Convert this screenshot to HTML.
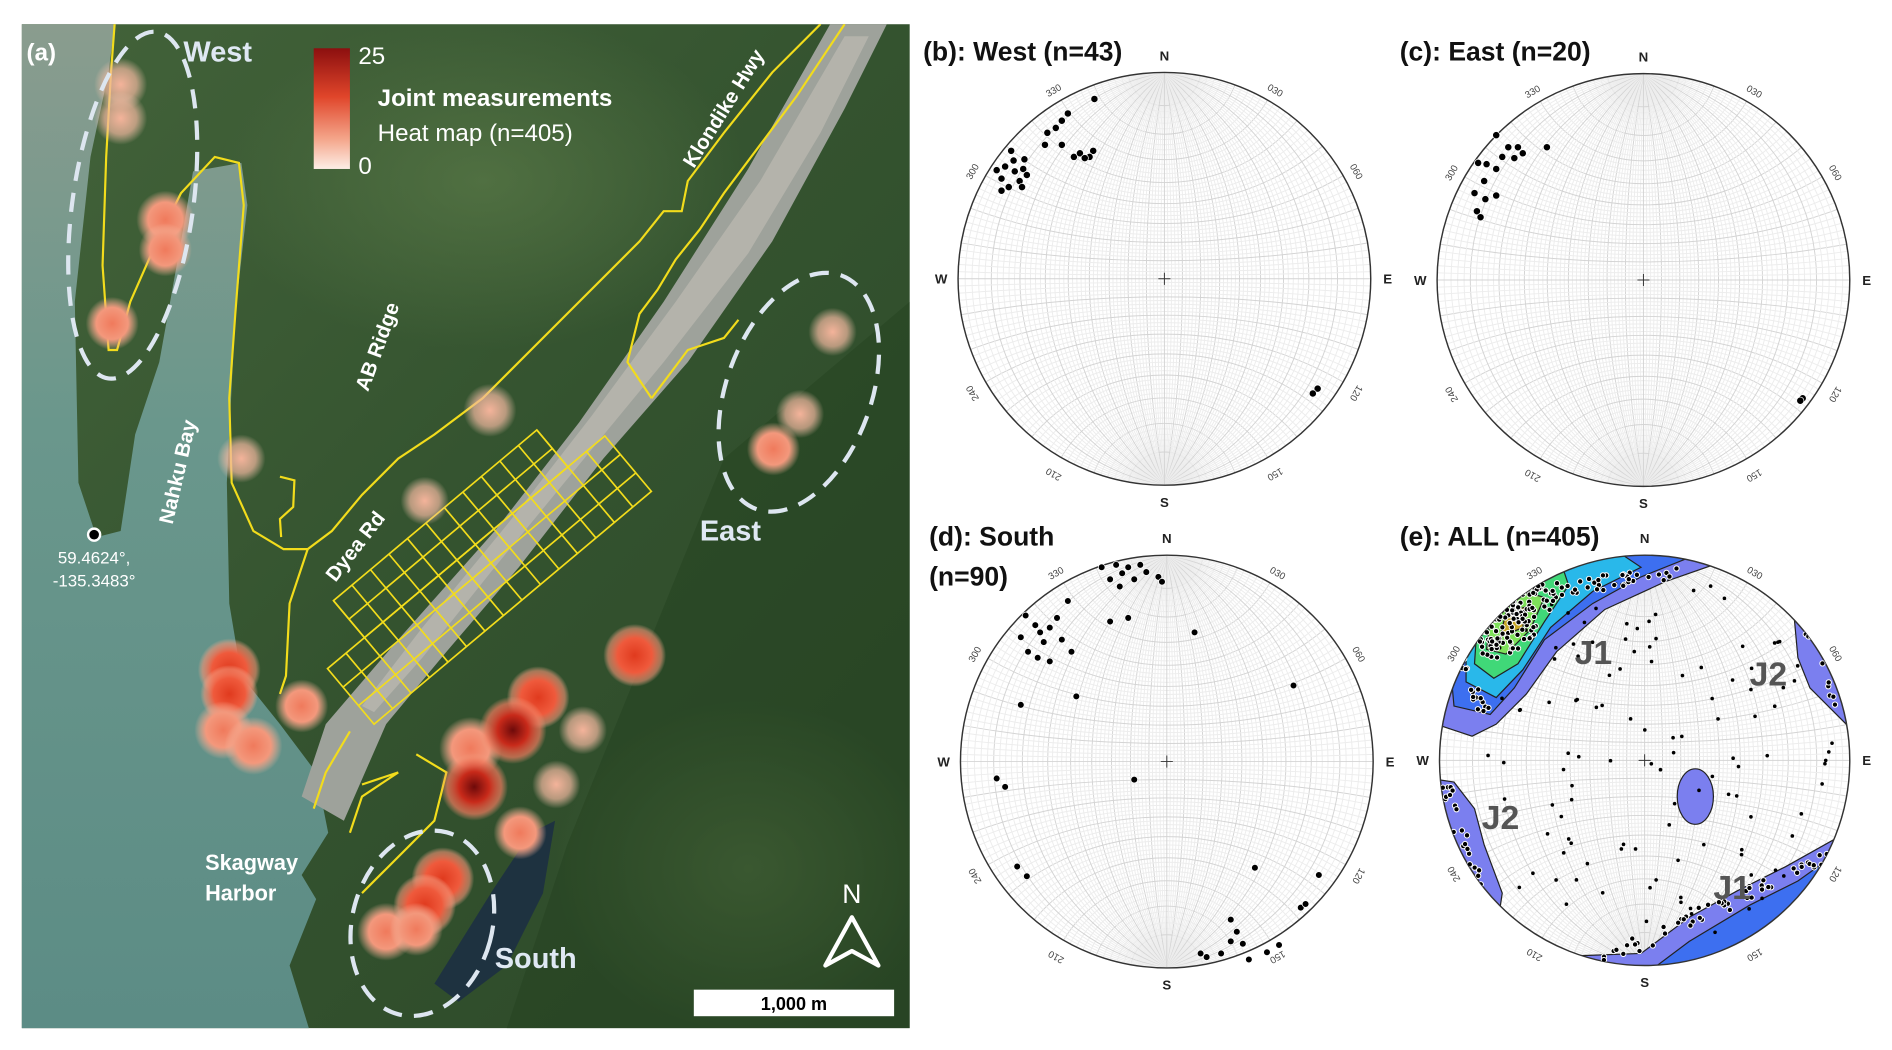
<!DOCTYPE html>
<html><head><meta charset="utf-8"><style>
html,body{margin:0;padding:0;background:#fff;width:1892px;height:1050px;overflow:hidden}
svg{display:block;position:absolute;left:0;top:0}
text{font-family:"Liberation Sans",Arial,sans-serif}
</style></head><body>
<svg id="s" width="1892" height="1050" viewBox="0 0 1568 870" preserveAspectRatio="none" xmlns="http://www.w3.org/2000/svg">
<defs>
<linearGradient id="forest" x1="0" y1="0" x2="1" y2="1">
<stop offset="0" stop-color="#43633a"/><stop offset="0.5" stop-color="#34532f"/><stop offset="1" stop-color="#2c4828"/></linearGradient>
<linearGradient id="water" x1="0" y1="0" x2="0" y2="1"><stop offset="0" stop-color="#8a9c8e"/><stop offset="0.4" stop-color="#6a978c"/><stop offset="1" stop-color="#5c8c85"/></linearGradient>
<linearGradient id="leg" x1="0" y1="0" x2="0" y2="1"><stop offset="0" stop-color="#8c0f0f"/><stop offset="0.4" stop-color="#e0452a"/><stop offset="0.75" stop-color="#f4a58a"/><stop offset="1" stop-color="#fdeee6"/></linearGradient>
<radialGradient id="hd"><stop offset="0" stop-color="#6e0a0a"/><stop offset="0.45" stop-color="#c82a1a"/><stop offset="0.8" stop-color="#ef7a5e" stop-opacity="0.7"/><stop offset="1" stop-color="#f4a080" stop-opacity="0"/></radialGradient>
<radialGradient id="hs"><stop offset="0" stop-color="#e03a1e"/><stop offset="0.55" stop-color="#ef5a3c"/><stop offset="0.85" stop-color="#f39376" stop-opacity="0.6"/><stop offset="1" stop-color="#f6b59a" stop-opacity="0"/></radialGradient>
<radialGradient id="hm"><stop offset="0" stop-color="#f07a5c"/><stop offset="0.6" stop-color="#f3987c"/><stop offset="1" stop-color="#f6b9a0" stop-opacity="0"/></radialGradient>
<radialGradient id="hp"><stop offset="0" stop-color="#f4b39a"/><stop offset="0.6" stop-color="#f2b8a0" stop-opacity="0.7"/><stop offset="1" stop-color="#f6c9b5" stop-opacity="0"/></radialGradient>
<radialGradient id="lg"><stop offset="0" stop-color="#5a7a48" stop-opacity="0.7"/><stop offset="1" stop-color="#5a7a48" stop-opacity="0"/></radialGradient>
<clipPath id="mapc"><rect x="18" y="20" width="736" height="832"/></clipPath>
</defs>
<g clip-path="url(#mapc)">
<rect x="18" y="20" width="736" height="832" fill="url(#forest)"/>
<ellipse cx="400" cy="150" rx="220" ry="140" fill="url(#lg)"/>
<ellipse cx="620" cy="720" rx="160" ry="140" fill="url(#lg)"/>
<path d="M600,380 L754,250 L754,852 L420,852 L470,700 Z" fill="#24401f" opacity="0.45"/>
<path d="M18,20 L95,20 L90,60 L75,130 L62,250 L65,400 L80,445 L100,440 L112,360 L132,300 L150,200 L160,142 L200,135 L205,170 L195,260 L188,400 L190,500 L200,560 L232,600 L262,640 L272,690 L250,725 L262,745 L240,800 L256,852 L18,852 Z" fill="url(#water)"/>
<path d="M688,20 L735,20 L700,90 L640,200 L570,300 L500,380 L430,470 L370,540 L320,600 L285,680 L250,660 L270,600 L330,530 L410,440 L480,350 L550,250 L620,140 Z" fill="#9ea29b"/>
<path d="M700,30 L720,30 L680,110 L620,210 L550,300 L480,385 L410,470 L350,545 L310,590 L300,585 L350,520 L420,435 L490,345 L560,250 L630,150 Z" fill="#bdbab2" opacity="0.7"/>
<path d="M410,735 L440,690 L460,680 L450,740 L420,800 L380,830 L360,815 Z" fill="#1e3240"/>
<g stroke="#f2dc1c" stroke-width="1.8" fill="none">
<path d="M95,20 L92,60 L88,130 L85,220 L90,290 L97,290 L108,250 L130,200 L150,160 L178,130 L198,135 L202,170 L195,260 L190,330 L192,400 L210,440 L235,455 L255,455 L275,440 L300,410 L330,380 L360,360 L400,330 L440,290 L480,250 L530,200 L550,175 L565,175 L570,150 L600,110 L640,60 L680,20"/>
<path d="M700,20 L660,80 L630,120 L600,160 L580,190 L560,215 L545,240 L530,260 L520,300 L540,330"/>
<path d="M255,455 L240,500 L237,560 L232,575"/>
<path d="M232,395 L244,398 L243,420 L232,430 L233,445"/>
<path d="M612,265 L600,280 L570,290 L540,330"/>
<path d="M290,606 L270,640 L260,670"/>
<path d="M345,625 L370,640 L360,680 L320,720 L300,740"/>
<path d="M300,650 L330,640 L300,660 L290,690"/>
</g>
<g transform="translate(310,600) rotate(-40)" stroke="#f2dc1c" stroke-width="1.4" fill="none">
<rect x="0" y="-60" width="300" height="60"/>
<rect x="40" y="-100" width="220" height="40"/>
<path d="M20,-60V0M40,-100V0M60,-100V0M80,-100V0M100,-100V0M120,-100V0M140,-100V0M160,-100V0M180,-100V0M200,-100V0M220,-100V0M240,-100V0M260,-100V0M280,-60V0M0,-20H300M0,-40H300M40,-80H260"/>
</g>
<g>
<circle cx="100" cy="70" r="22" fill="url(#hp)"/><circle cx="100" cy="98" r="22" fill="url(#hp)"/>
<circle cx="137" cy="182" r="24" fill="url(#hm)"/><circle cx="137" cy="207" r="22" fill="url(#hm)"/>
<circle cx="93" cy="268" r="22" fill="url(#hm)"/><circle cx="200" cy="380" r="20" fill="url(#hp)"/>
<circle cx="406" cy="340" r="22" fill="url(#hp)"/><circle cx="352" cy="415" r="20" fill="url(#hp)"/>
<circle cx="690" cy="275" r="20" fill="url(#hp)"/><circle cx="663" cy="343" r="20" fill="url(#hp)"/>
<circle cx="641" cy="372" r="22" fill="url(#hm)"/>
<circle cx="190" cy="555" r="26" fill="url(#hs)"/><circle cx="190" cy="575" r="24" fill="url(#hs)"/>
<circle cx="185" cy="605" r="24" fill="url(#hm)"/><circle cx="210" cy="618" r="24" fill="url(#hm)"/>
<circle cx="250" cy="585" r="22" fill="url(#hm)"/>
<circle cx="526" cy="543" r="26" fill="url(#hs)"/><circle cx="446" cy="578" r="26" fill="url(#hs)"/>
<circle cx="390" cy="620" r="26" fill="url(#hm)"/>
<circle cx="425" cy="605" r="28" fill="url(#hd)"/><circle cx="393" cy="652" r="28" fill="url(#hd)"/>
<circle cx="483" cy="605" r="20" fill="url(#hp)"/><circle cx="461" cy="650" r="20" fill="url(#hp)"/>
<circle cx="431" cy="690" r="22" fill="url(#hm)"/>
<circle cx="367" cy="728" r="26" fill="url(#hs)"/><circle cx="352" cy="750" r="26" fill="url(#hs)"/>
<circle cx="320" cy="772" r="24" fill="url(#hm)"/><circle cx="345" cy="770" r="22" fill="url(#hm)"/>
</g>
<g fill="none" stroke="#dde6f0" stroke-width="3.5" stroke-dasharray="16 10">
<ellipse cx="110" cy="170" rx="50" ry="145" transform="rotate(8 110 170)"/>
<ellipse cx="662" cy="325" rx="60" ry="103" transform="rotate(20 662 325)"/>
<ellipse cx="350" cy="765" rx="58" ry="78" transform="rotate(15 350 765)"/>
</g>
<rect x="260" y="40" width="30" height="100" fill="url(#leg)"/>
<g fill="#fff">
<text x="22" y="50" font-size="20" font-weight="bold">(a)</text>
<text x="152" y="51" font-size="24" font-weight="bold" fill="#dfe8f3">West</text>
<text x="297" y="53" font-size="20">25</text>
<text x="297" y="144" font-size="20">0</text>
<text x="313" y="88" font-size="20" font-weight="bold">Joint measurements</text>
<text x="313" y="117" font-size="20">Heat map (n=405)</text>
<text x="580" y="448" font-size="24" font-weight="bold" fill="#dfe8f3">East</text>
<text x="410" y="802" font-size="24" font-weight="bold" fill="#dfe8f3">South</text>
<text x="170" y="721" font-size="18" font-weight="bold">Skagway</text>
<text x="170" y="746" font-size="18" font-weight="bold">Harbor</text>
<text transform="translate(143,435) rotate(-77)" font-size="17" font-weight="bold">Nahku Bay</text>
<text transform="translate(305,325) rotate(-70)" font-size="17" font-weight="bold">AB Ridge</text>
<text transform="translate(278,483) rotate(-52)" font-size="17" font-weight="bold">Dyea Rd</text>
<text transform="translate(575,140) rotate(-58)" font-size="17" font-weight="bold">Klondike Hwy</text>
<text x="78" y="467" font-size="14" text-anchor="middle">59.4624°,</text>
<text x="78" y="486" font-size="14" text-anchor="middle">-135.3483°</text>
<text x="706" y="748" font-size="22" text-anchor="middle">N</text>
</g>
<circle cx="78" cy="443" r="5" fill="#000" stroke="#fff" stroke-width="2"/>
<path d="M706,760 L728,800 L706,788 L684,800 Z" fill="none" stroke="#fff" stroke-width="3.5" stroke-linejoin="round"/>
<rect x="575" y="820" width="166" height="22" fill="#fff"/>
<text x="658" y="837" font-size="15" font-weight="bold" text-anchor="middle" fill="#000">1,000 m</text>
</g>
<g id="nets"></g>
<g font-weight="bold" font-size="22" fill="#111">
<text x="765" y="50">(b): West (n=43)</text>
<text x="1160" y="50">(c): East (n=20)</text>
<text x="770" y="452">(d): South</text>
<text x="770" y="485">(n=90)</text>
<text x="1160" y="452">(e): ALL (n=405)</text>
</g>
</svg>
<script>
(function(){
var NS="http://www.w3.org/2000/svg",g=document.getElementById("nets");
function el(t,a,p){var e=document.createElementNS(NS,t);for(var k in a)e.setAttribute(k,a[k]);(p||g).appendChild(e);return e;}
var nets=[[965,231,171,"b"],[1362,232,171,"c"],[967,631,171,"d"],[1363,630,170,"e"]];
var seed=7;function rnd(){seed=(seed*16807)%2147483647;return seed/2147483647;}
var dots={
b:[[907,82],[885,94],[880,100],[875,106],[868,110],[880,120],[866,120],[906,125],[903,130],[890,130],[895,127],[899,131],[838,125],[833,138],[841,142],[848,140],[830,148],[845,150],[836,155],[830,158],[847,155],[851,145],[840,133],[826,141],[849,132],[1092,322],[1088,326]],
c:[[1240,112],[1250,122],[1258,122],[1262,127],[1282,122],[1245,130],[1255,131],[1240,140],[1232,136],[1225,135],[1230,150],[1222,160],[1231,165],[1240,162],[1224,175],[1227,180],[1494,330],[1492,332]],
d:[[913,470],[925,468],[930,475],[920,480],[945,468],[950,474],[960,478],[963,482],[940,480],[935,470],[928,486],[850,510],[858,518],[862,524],[870,520],[865,532],[852,540],[860,545],[880,530],[876,512],[885,498],[888,540],[846,528],[870,548],[920,515],[935,512],[990,524],[1072,568],[846,584],[892,577],[826,645],[833,652],[940,646],[843,718],[851,726],[1040,719],[1093,725],[1078,752],[1020,762],[1020,780],[1030,782],[995,790],[1000,793],[1050,789],[1060,783],[1082,749],[1025,772],[1012,790],[1035,795]]
};
nets.forEach(function(n){
 var cx=n[0],cy=n[1],r=n[2],id=n[3];
 var cp=el("clipPath",{id:"c"+id});el("circle",{cx:cx,cy:cy,r:r},cp);
 el("circle",{cx:cx,cy:cy,r:r,fill:"#fff"});
 var gg=el("g",{"clip-path":"url(#c"+id+")",fill:"none"});
 for(var a=2;a<90;a+=2){
  var col=(a%10==0)?"#d4d4d4":"#ededed";
  var ph=a*Math.PI/180, d=r*Math.tan(ph/2);
  var h=(d*d-r*r)/(2*d), rr=Math.abs(d-h);
  el("circle",{cx:cx+h,cy:cy,r:rr,stroke:col,"stroke-width":0.8},gg);
  el("circle",{cx:cx-h,cy:cy,r:rr,stroke:col,"stroke-width":0.8},gg);
  var al=a*Math.PI/180;
  el("circle",{cx:cx,cy:cy+r/Math.cos(al),r:r*Math.tan(al),stroke:col,"stroke-width":0.8},gg);
  el("circle",{cx:cx,cy:cy-r/Math.cos(al),r:r*Math.tan(al),stroke:col,"stroke-width":0.8},gg);
 }
 el("line",{x1:cx-r,y1:cy,x2:cx+r,y2:cy,stroke:"#d4d4d4","stroke-width":0.8},gg);
 el("line",{x1:cx,y1:cy-r,x2:cx,y2:cy+r,stroke:"#d4d4d4","stroke-width":0.8},gg);
 if(id=="e"){
  var P=function(d,f){el("path",{d:d,fill:f,stroke:"#222","stroke-width":1},gg);};
  P("M1190,600 L1190,520 L1260,450 L1440,450 L1420,468 L1380,482 L1330,505 L1290,540 L1265,575 L1240,600 L1220,610 Z","#7b7fef");
  P("M1205,585 L1200,530 L1270,458 L1380,455 L1400,462 L1360,478 L1320,500 L1280,530 L1255,570 L1235,592 Z","#3d6ff0");
  P("M1215,565 L1215,520 L1280,465 L1345,460 L1360,470 L1320,490 L1285,520 L1262,555 L1240,578 Z","#29b8ea");
  P("M1222,550 L1225,505 L1262,475 L1295,470 L1300,485 L1280,515 L1258,550 L1238,562 Z","#40d878");
  P("M1232,538 L1236,505 L1262,490 L1280,495 L1268,522 L1248,542 Z","#7ee05a");
  P("M1243,528 L1248,508 L1264,503 L1262,520 Z","#c7a82a");
  P("M1290,810 L1305,792 L1360,790 L1400,760 L1440,738 L1480,718 L1530,690 L1540,760 L1400,830 Z","#7b7fef");
  P("M1360,810 L1400,780 L1450,750 L1490,730 L1525,705 L1530,760 L1400,830 Z","#3d6ff0");
  P("M1410,810 L1460,780 L1500,755 L1525,730 L1520,790 L1420,830 Z","#29b8ea");
  P("M1487,512 L1505,530 L1520,560 L1535,600 L1540,610 L1520,590 L1500,570 L1490,545 Z","#7b7fef");
  P("M1185,645 L1205,648 L1222,670 L1230,700 L1245,740 L1242,760 L1228,765 L1205,740 L1185,700 Z","#7b7fef");
  P("M1195,700 L1205,705 L1215,740 L1205,740 Z","#3d6ff0");
  el("ellipse",{cx:1405,cy:660,rx:15,ry:23,fill:"#7b7fef",stroke:"#222","stroke-width":1},gg);
 }
 el("circle",{cx:cx,cy:cy,r:r,fill:"none",stroke:"#333","stroke-width":1.2});
 el("path",{d:"M"+(cx-5)+","+cy+"h10M"+cx+","+(cy-5)+"v10",stroke:"#333","stroke-width":0.8});
 var lab=[["N",0],["E",90],["S",180],["W",270]];
 lab.forEach(function(l){var t=l[1]*Math.PI/180;var x=cx+(r+14)*Math.sin(t),y=cy-(r+14)*Math.cos(t)+4;
  var tx=el("text",{x:x,y:y,"font-size":11,"font-weight":"bold","text-anchor":"middle",fill:"#222"});tx.textContent=l[0];});
 ["030","060","120","150","210","240","300","330"].forEach(function(s){var deg=+s,t=deg*Math.PI/180;var x=cx+(r+10)*Math.sin(t),y=cy-(r+10)*Math.cos(t);
  var tx=el("text",{x:0,y:0,"font-size":8,"text-anchor":"middle",fill:"#444",transform:"translate("+x+","+(y+3)+") rotate("+deg+")"});tx.textContent=s;});
 var ds=dots[id];
 if(id=="e"){ds=[];
  var dg=el("g",{"clip-path":"url(#ce)"});
  for(var i=0;i<120;i++){var a=rnd()*6.283,q=Math.sqrt(rnd())*0.92*r;var x=cx+q*Math.cos(a),y=cy+q*Math.sin(a);ds.push([x,y,0]);}
  for(var i=0;i<130;i++){var a=rnd()*6.283,q=Math.sqrt(rnd());var u=q*40*Math.cos(a),v=q*20*Math.sin(a);var c=0.7071;ds.push([1255+u*c+v*c,515-u*c+v*c,1]);}
  for(var i=0;i<40;i++){var t=rnd();ds.push([1275+t*110+rnd()*10,485-t*20+rnd()*14,1]);}
  for(var i=0;i<20;i++){var t=rnd();ds.push([1205+t*20+rnd()*10,540+t*50,1]);}
  for(var i=0;i<60;i++){var t=rnd();ds.push([1310+t*210+rnd()*10,795-t*95+rnd()*12,1]);}
  for(var i=0;i<30;i++){var t=rnd();ds.push([1195+t*25+rnd()*14,652+t*100,1]);}
  for(var i=0;i<10;i++){var t=rnd();ds.push([1495+t*25+rnd()*6,525+t*60,1]);}
  ds.forEach(function(p){ if(p[2]) el("circle",{cx:p[0],cy:p[1],r:2.2,fill:"#000",stroke:"#fff","stroke-width":0.8},dg); else el("circle",{cx:p[0],cy:p[1],r:1.5,fill:"#000"},dg);});
  var j=[["J1",1305,550],["J2",1450,568],["J2",1228,687],["J1",1420,745]];
  j.forEach(function(k){var tx=el("text",{x:k[1],y:k[2],"font-size":28,"font-weight":"bold",fill:"#555"});tx.textContent=k[0];});
 } else {
  ds.forEach(function(p){el("circle",{cx:p[0],cy:p[1],r:(id=="d"?2.8:3),fill:"#000",stroke:"#fff","stroke-width":0.6});});
 }
});
})();
</script>
</body></html>
